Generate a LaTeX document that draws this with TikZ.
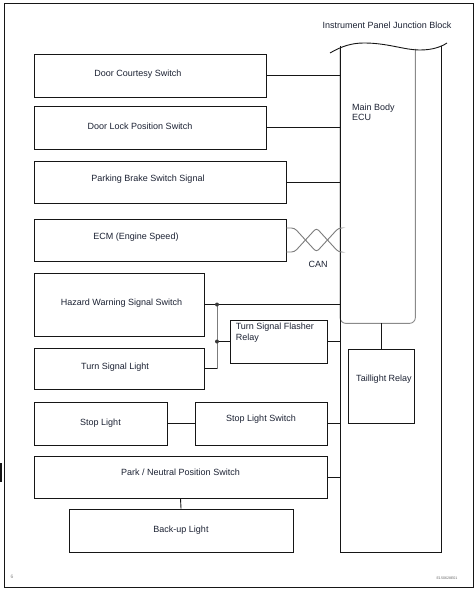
\documentclass[tikz,border=0pt]{standalone}
\usepackage{fontspec}
\setmainfont{Liberation Sans}
\usepackage{tikz}
\usetikzlibrary{calc}
\definecolor{ink}{HTML}{161616}
\definecolor{textc}{HTML}{1c2233}
\definecolor{wire}{HTML}{7c7c7c}
\definecolor{ecuedge}{HTML}{8a8a8a}

\begin{document}
\begin{tikzpicture}[
  x=1pt, y=-1pt,
  font=\fontsize{9}{11}\selectfont,
  box/.style={draw=ink, line width=0.9pt, inner sep=0pt, align=center, text=textc, fill=white},
  lab/.style={font=\fontsize{9}{11}\selectfont, text=textc, inner sep=0pt},
  link/.style={draw=ink, line width=0.9pt},
  bus/.style={draw=wire, line width=0.9pt},
  dot/.style={circle, fill=ink!85, inner sep=0pt, minimum size=4pt},
]
\useasboundingbox (0,0) rectangle (476,591);
% sheet
\draw[link] (4,3) rectangle (473,587);
\draw[ink, line width=1.6pt] (1,463) -- (1,482);
% junction block and ECU
\node[inner sep=0pt, minimum width=101pt, minimum height=506pt, anchor=north west] (jb) at (340,46) {};
\node[inner sep=0pt, minimum width=75pt, minimum height=274pt, anchor=north west] (ecu) at (340,49) {};
\draw[draw=ecuedge, line width=0.9pt, rounded corners=6pt] (ecu.north west) -- (ecu.south west) -- (ecu.south east) -- (ecu.north east);
\draw[link] (jb.north west) -- (jb.south west) -- (jb.south east) -- (jb.north east);
\draw[link] (330,53) .. controls (342,46) and (352,43) .. (364,43) .. controls (388,43) and (404,50) .. (420,50) .. controls (432,50) and (441,47) .. (447,43);
\node[lab] (jbtext) at (387,25) {Instrument Panel Junction Block};
\node[lab, anchor=north west, align=left, font=\fontsize{9}{10}\selectfont] (ecutext) at (352,104) {Main Body\\ECU};
% inputs (left)
\node[box, minimum width=232pt, minimum height=43pt, label={[lab, xshift=-12pt, yshift=1.5pt]center:{Door Courtesy Switch}}] (door) at (150,75.5) {};
\node[box, minimum width=232pt, minimum height=43pt, label={[lab, xshift=-10pt, yshift=1.5pt]center:{Door Lock Position Switch}}] (lock) at (150,127.5) {};
\node[box, minimum width=252pt, minimum height=42pt, label={[lab, xshift=-12pt, yshift=3pt]center:{Parking Brake Switch Signal}}] (brake) at (160,182) {};
\node[box, minimum width=252pt, minimum height=42pt, label={[lab, xshift=-24pt, yshift=3pt]center:{ECM (Engine Speed)}}] (ecm) at (160,240) {};
\node[box, minimum width=170pt, minimum height=63pt, label={[lab, xshift=2.5pt, yshift=1.5pt]center:{Hazard Warning Signal Switch}}] (hazard) at (119,304.5) {};
\node[box, minimum width=170pt, minimum height=41pt, label={[lab, xshift=-4pt, yshift=1pt]center:{Turn Signal Light}}] (turnlight) at (119,368.5) {};
\node[box, minimum width=97pt, minimum height=43pt, label={[lab, anchor=north west, align=left, xshift=6pt, yshift=-3pt]north west:{Turn Signal Flasher\\Relay}}] (flasher) at (278.5,341.5) {};
\node[box, minimum width=66pt, minimum height=74pt, label={[lab, xshift=3pt, yshift=7pt]center:{Taillight Relay}}] (tail) at (381,386) {};
\node[box, minimum width=133pt, minimum height=43pt] (stoplight) at (100.5,423.5) {Stop Light};
\node[box, minimum width=132pt, minimum height=43pt, label={[lab, yshift=4.5pt]center:{Stop Light Switch}}] (stopsw) at (261,423.5) {};
\node[box, minimum width=293pt, minimum height=42pt, label={[lab, yshift=5pt]center:{Park / Neutral Position Switch}}] (pnp) at (180.5,477) {};
\node[box, minimum width=224pt, minimum height=43pt] (backup) at (181,530.5) {Back-up Light};
% connections
\coordinate (tap) at (217,0);
\coordinate (canA) at ([yshift=12pt]ecm.east);
\coordinate (canB) at ([yshift=-12pt]ecm.east);
\draw[link] (door.east) -- (door.east -| ecu.west);
\draw[link] (lock.east) -- (lock.east -| ecu.west);
\draw[link] (brake.east) -- (brake.east -| ecu.west);
\draw[bus, rounded corners=3pt] (canA) -- ++(8,0) -- ++(22,24) -- ++(22,-24) -- (canA -| ecu.west);
\draw[bus, rounded corners=3pt] (canB) -- ++(8,0) -- ++(22,-24) -- ++(22,24) -- (canB -| ecu.west);
\node[lab] (can) at (318,264) {CAN};
\draw[link] (hazard.east) -- (hazard.east -| ecu.west);
\draw[link] (turnlight.east) -- (turnlight.east -| tap);
\draw[bus] (turnlight.east -| tap) -- (hazard.east -| tap);
\draw[link] (flasher.west -| tap) -- (flasher.west);
\draw[link] (flasher.east) -- (flasher.east -| ecu.west);
\node[dot] (dotA) at (hazard.east -| tap) {};
\node[dot] (dotB) at (flasher.west -| tap) {};
\draw[link] (tail.north |- ecu.south) -- (tail.north);
\draw[link] (stoplight.east) -- (stopsw.west);
\draw[link] (stopsw.east) -- (stopsw.east -| jb.west);
\draw[link] (pnp.east) -- (pnp.east -| jb.west);
\draw[link] (pnp.south) -- (backup.north);
% sheet marks
\node[font=\fontsize{5}{6}\selectfont, text=black!45] (pageno) at (12,577) {6};
\node[font=\fontsize{3.6}{4}\selectfont, text=black!60] (figcode) at (447,578) {E150628E01};
\end{tikzpicture}
\end{document}
